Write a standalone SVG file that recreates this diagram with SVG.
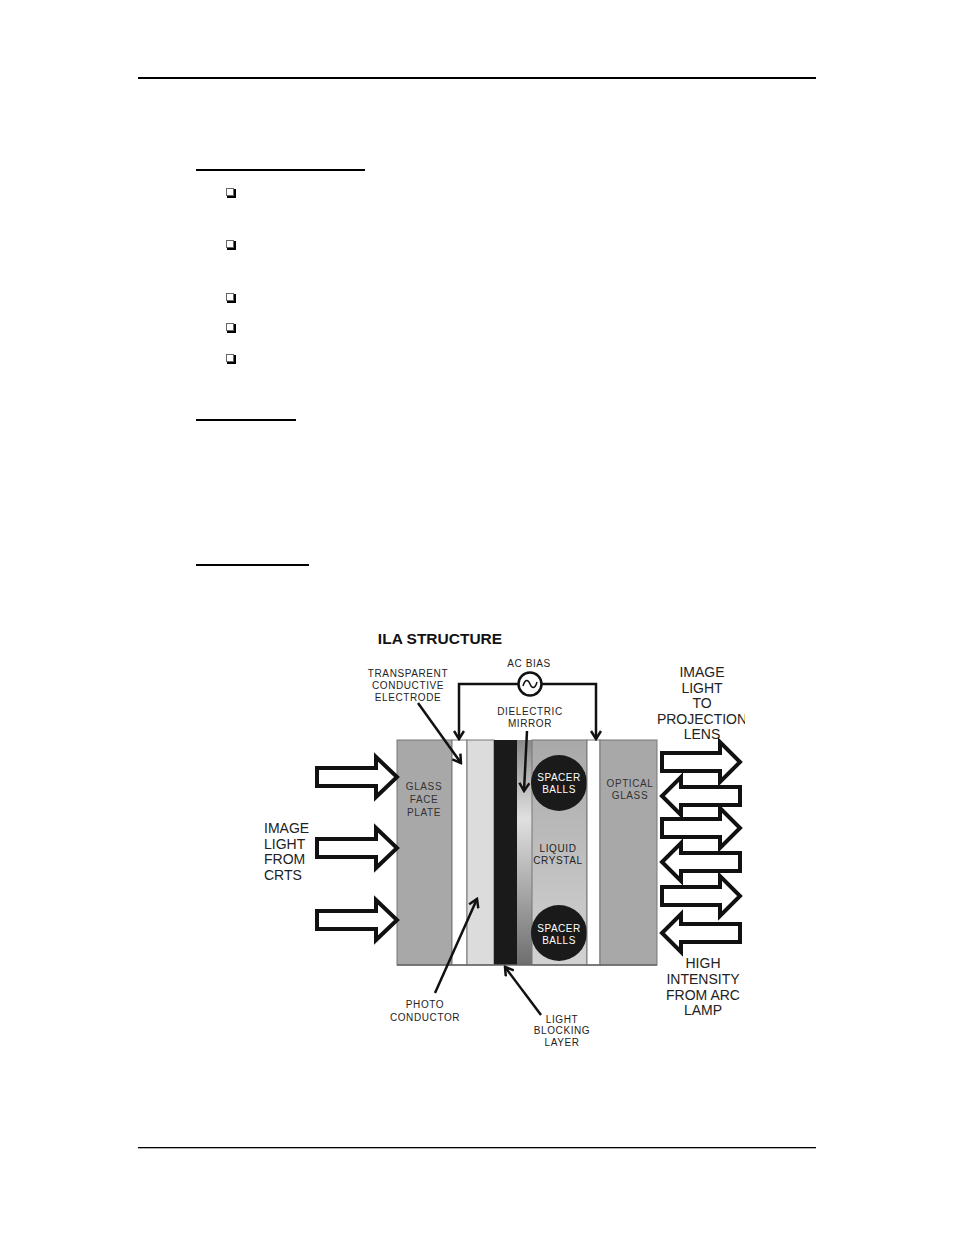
<svg xmlns="http://www.w3.org/2000/svg" width="954" height="1235" viewBox="0 0 954 1235">
<style>
.big{font-family:"Liberation Sans",Arial,sans-serif;font-size:14px;fill:#222;text-anchor:middle}
.bigl{font-family:"Liberation Sans",Arial,sans-serif;font-size:14px;fill:#222;text-anchor:start}
.lbl{font-family:"Liberation Sans",Arial,sans-serif;font-size:10px;fill:#222;letter-spacing:0.6px;text-anchor:middle}
.wh{font-family:"Liberation Sans",Arial,sans-serif;font-size:10px;fill:#fff;letter-spacing:0.5px;text-anchor:middle}
.dk{font-family:"Liberation Sans",Arial,sans-serif;font-size:10px;fill:#333;letter-spacing:0.6px;text-anchor:middle}
.arr{fill:#fff;stroke:#111;stroke-width:4;stroke-linejoin:miter}
.lead{fill:none;stroke:#111;stroke-width:2.5}
.layer{stroke:#777;stroke-width:1}
</style>
<defs>
<marker id="chev" viewBox="-10 -6 12 12" refX="0" refY="0" markerWidth="12" markerHeight="12" orient="auto" markerUnits="userSpaceOnUse">
<path d="M-8,-5 L0,0 L-8,5" fill="none" stroke="#111" stroke-width="2.5"/>
</marker>
<linearGradient id="mirror" x1="0" y1="0" x2="0" y2="1">
<stop offset="0" stop-color="#8a8a8a"/>
<stop offset="0.35" stop-color="#e0e0e0"/>
<stop offset="1" stop-color="#6e6e6e"/>
</linearGradient>
<linearGradient id="lc" x1="0" y1="0" x2="0" y2="1">
<stop offset="0" stop-color="#a9a9a9"/>
<stop offset="1" stop-color="#d2d2d2"/>
</linearGradient>
<clipPath id="fig"><rect x="240" y="620" width="505" height="427"/></clipPath>
</defs>
<rect width="954" height="1235" fill="#fff"/>
<g id="page">
<rect x="138" y="77" width="678" height="2" fill="#000"/>
<rect x="138" y="1147" width="678" height="1.3" fill="#000"/>
<rect x="196" y="169" width="169" height="2" fill="#000"/>
<rect x="196" y="419" width="100" height="2" fill="#000"/>
<rect x="196" y="564" width="113" height="2" fill="#000"/>
<g id="bullets" fill="#fff" stroke="#666" stroke-width="1">
<rect x="226.5" y="188.5" width="7" height="7"/>
<rect x="226.5" y="240.5" width="7" height="7"/>
<rect x="226.5" y="293.5" width="7" height="7"/>
<rect x="226.5" y="323.5" width="7" height="7"/>
<rect x="226.5" y="354.5" width="7" height="7"/>
</g>
<g fill="none" stroke="#000" stroke-width="2">
<path d="M227,197 H235 V189"/>
<path d="M227,249 H235 V241"/>
<path d="M227,302 H235 V294"/>
<path d="M227,332 H235 V324"/>
<path d="M227,363 H235 V355"/>
</g>
</g>
<g clip-path="url(#fig)">
<text x="440" y="644" font-family="'Liberation Sans',Arial,sans-serif" font-size="15.5" font-weight="bold" fill="#111" text-anchor="middle">ILA STRUCTURE</text>
<g id="glass-face-plate">
<rect class="layer" x="397" y="740" width="55" height="225" fill="#a8a8a8"/>
<text class="dk" x="424" y="790">GLASS</text>
<text class="dk" x="424" y="803">FACE</text>
<text class="dk" x="424" y="816">PLATE</text>
</g>
<g id="electrode-left"><rect class="layer" x="452" y="740" width="15" height="225" fill="#fff"/></g>
<g id="photo-conductor-layer"><rect class="layer" x="467" y="740" width="27" height="225" fill="#dcdcdc"/></g>
<g id="light-blocking-layer"><rect x="494" y="740" width="23" height="225" fill="#1a1a1a"/></g>
<g id="dielectric-mirror-layer"><rect x="517" y="740" width="15" height="225" fill="url(#mirror)"/></g>
<g id="liquid-crystal">
<rect class="layer" x="532" y="740" width="55" height="225" fill="url(#lc)"/>
<text class="lbl" x="558" y="852">LIQUID</text>
<text class="lbl" x="558" y="864">CRYSTAL</text>
</g>
<g id="spacer-balls-top">
<circle cx="559" cy="783" r="28" fill="#1a1a1a"/>
<text class="wh" x="559" y="781">SPACER</text>
<text class="wh" x="559" y="793">BALLS</text>
</g>
<g id="spacer-balls-bottom">
<circle cx="559" cy="933" r="28" fill="#1a1a1a"/>
<text class="wh" x="559" y="932">SPACER</text>
<text class="wh" x="559" y="944">BALLS</text>
</g>
<g id="electrode-right"><rect class="layer" x="587" y="740" width="13" height="225" fill="#fff"/></g>
<g id="optical-glass">
<rect class="layer" x="600" y="740" width="57" height="225" fill="#a8a8a8"/>
<text class="dk" x="630" y="787">OPTICAL</text>
<text class="dk" x="630" y="799">GLASS</text>
</g>
<line x1="397" y1="965" x2="657" y2="965" stroke="#666" stroke-width="1.5"/>
<g id="ac-bias">
<text class="lbl" x="529" y="667">AC BIAS</text>
<circle cx="530" cy="684" r="11.5" fill="#fff" stroke="#111" stroke-width="2.5"/>
<path d="M523,686 C525,679 528,679 530,684 C532,689 535,689 537,682" fill="none" stroke="#111" stroke-width="1.5"/>
</g>
<g id="connectors">
<path class="lead" d="M518.5,684 H459 V739" marker-end="url(#chev)"/>
<path class="lead" d="M541.5,684 H596 V739" marker-end="url(#chev)"/>
<path class="lead" d="M418,703 L461,763" marker-end="url(#chev)"/>
<path class="lead" d="M527,731 L524,791" marker-end="url(#chev)"/>
<path class="lead" d="M435,993 L477,899" marker-end="url(#chev)"/>
<path class="lead" d="M541,1015 L505,967" marker-end="url(#chev)"/>
</g>
<g id="label-electrode">
<text class="lbl" x="408" y="677">TRANSPARENT</text>
<text class="lbl" x="408" y="689">CONDUCTIVE</text>
<text class="lbl" x="408" y="701">ELECTRODE</text>
</g>
<g id="label-mirror">
<text class="lbl" x="530" y="715">DIELECTRIC</text>
<text class="lbl" x="530" y="727">MIRROR</text>
</g>
<g id="label-photo">
<text class="lbl" x="425" y="1008">PHOTO</text>
<text class="lbl" x="425" y="1021">CONDUCTOR</text>
</g>
<g id="label-blocking">
<text class="lbl" x="562" y="1023">LIGHT</text>
<text class="lbl" x="562" y="1034">BLOCKING</text>
<text class="lbl" x="562" y="1046">LAYER</text>
</g>
<g id="image-light-from-crts">
<text class="bigl" x="264" y="833">IMAGE</text>
<text class="bigl" x="264" y="848.5">LIGHT</text>
<text class="bigl" x="264" y="864">FROM</text>
<text class="bigl" x="264" y="880">CRTS</text>
<polygon class="arr" points="317,768 376,768 376,757 397,777 376,797 376,786 317,786"/>
<polygon class="arr" points="317,839 376,839 376,828 397,848 376,868 376,857 317,857"/>
<polygon class="arr" points="317,911 376,911 376,900 397,920 376,940 376,929 317,929"/>
</g>
<g id="image-light-to-lens">
<text class="big" x="702" y="677">IMAGE</text>
<text class="big" x="702" y="692.5">LIGHT</text>
<text class="big" x="702" y="708">TO</text>
<text class="big" x="702" y="723.5">PROJECTION</text>
<text class="big" x="702" y="739">LENS</text>
</g>
<g id="right-arrows">
<polygon class="arr" points="662,753 720,753 720,742 740,762 720,782 720,771 662,771"/>
<polygon class="arr" points="740,787 681,787 681,777 662,796 681,815 681,805 740,805"/>
<polygon class="arr" points="662,819 720,819 720,808 740,828 720,848 720,837 662,837"/>
<polygon class="arr" points="740,853 681,853 681,843 662,862 681,881 681,871 740,871"/>
<polygon class="arr" points="662,887 720,887 720,876 740,896 720,916 720,905 662,905"/>
<polygon class="arr" points="740,924 681,924 681,914 662,933 681,952 681,942 740,942"/>
</g>
<g id="high-intensity">
<text class="big" x="703" y="968">HIGH</text>
<text class="big" x="703" y="984">INTENSITY</text>
<text class="big" x="703" y="999.5">FROM ARC</text>
<text class="big" x="703" y="1015">LAMP</text>
</g>
</g>
</svg>
